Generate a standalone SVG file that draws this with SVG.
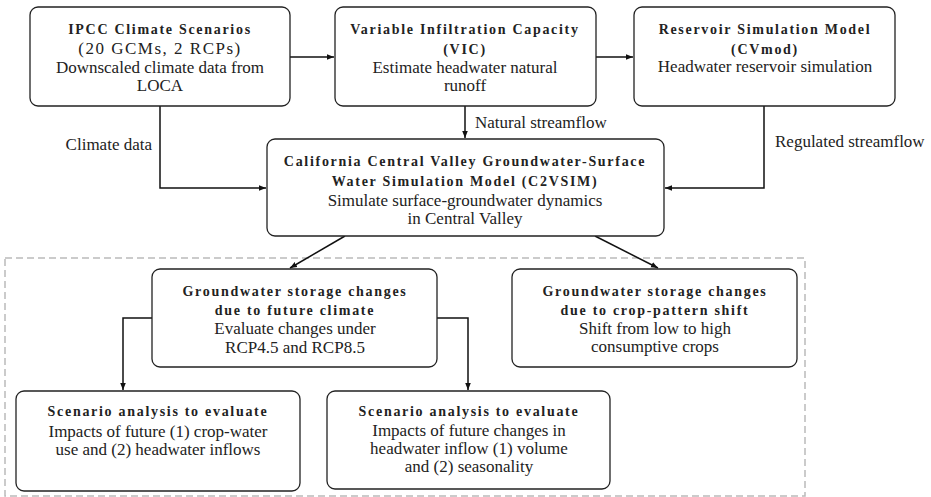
<svg xmlns="http://www.w3.org/2000/svg" width="931" height="497" viewBox="0 0 931 497">
<style>
.box{fill:#fff;stroke:#222;stroke-width:1.3}
.b{font-family:"Liberation Serif",serif;font-weight:bold;font-size:14px;letter-spacing:1.7px;fill:#222;text-anchor:middle}
.r{font-family:"Liberation Serif",serif;font-size:17px;fill:#222;text-anchor:middle}
.l{font-family:"Liberation Serif",serif;font-size:17px;fill:#222}
.c{fill:none;stroke:#111;stroke-width:1.5}
</style>
<defs>
<marker id="ah" viewBox="0 0 10 10" refX="10" refY="5" markerWidth="7" markerHeight="7" markerUnits="userSpaceOnUse" orient="auto"><path d="M0,1 L10,5 L0,9 z" fill="#111"/></marker>
</defs>
<rect x="5" y="258" width="800" height="238" fill="none" stroke="#bbb" stroke-width="1.5" stroke-dasharray="7 4"/>
<g id="connectors">
<line class="c" x1="290" y1="57" x2="334" y2="57" marker-end="url(#ah)"/>
<line class="c" x1="596" y1="57" x2="633" y2="57" marker-end="url(#ah)"/>
<line class="c" x1="465" y1="106" x2="465" y2="138" marker-end="url(#ah)"/>
<polyline class="c" points="160,106 160,188 266,188" marker-end="url(#ah)"/>
<polyline class="c" points="764,106 764,188 665,188" marker-end="url(#ah)"/>
<line class="c" x1="345" y1="236" x2="290" y2="268" marker-end="url(#ah)"/>
<line class="c" x1="595" y1="236" x2="658" y2="268" marker-end="url(#ah)"/>
<polyline class="c" points="152,318 123,318 123,390" marker-end="url(#ah)"/>
<polyline class="c" points="437,318 468,318 468,390" marker-end="url(#ah)"/>
<text class="l" x="152" y="150" text-anchor="end">Climate data</text>
<text class="l" x="475" y="128">Natural streamflow</text>
<text class="l" x="775" y="147">Regulated streamflow</text>
</g>
<g id="ipcc">
<rect class="box" x="30" y="7" width="260" height="99" rx="8"/>
<text class="b" x="160" y="34">IPCC Climate Scenarios</text>
<text class="r" x="160" y="54" style="letter-spacing:1.5px">(20 GCMs, 2 RCPs)</text>
<text class="r" x="160" y="73">Downscaled climate data from</text>
<text class="r" x="160" y="91">LOCA</text>
</g>
<g id="vic">
<rect class="box" x="335" y="7" width="261" height="99" rx="8"/>
<text class="b" x="465" y="34">Variable Infiltration Capacity</text>
<text class="b" x="465" y="54">(VIC)</text>
<text class="r" x="465" y="73">Estimate headwater natural</text>
<text class="r" x="465" y="91">runoff</text>
</g>
<g id="cvmod">
<rect class="box" x="634" y="7" width="261" height="99" rx="8"/>
<text class="b" x="765" y="34">Reservoir Simulation Model</text>
<text class="b" x="765" y="54">(CVmod)</text>
<text class="r" x="765" y="72">Headwater reservoir simulation</text>
</g>
<g id="c2vsim">
<rect class="box" x="267" y="139" width="397" height="97" rx="8"/>
<text class="b" x="465" y="166">California Central Valley Groundwater-Surface</text>
<text class="b" x="465" y="186">Water Simulation Model (C2VSIM)</text>
<text class="r" x="465" y="206">Simulate surface-groundwater dynamics</text>
<text class="r" x="465" y="224">in Central Valley</text>
</g>
<g id="gw-climate">
<rect class="box" x="152" y="269" width="285" height="98" rx="8"/>
<text class="b" x="295" y="296">Groundwater storage changes</text>
<text class="b" x="295" y="315">due to future climate</text>
<text class="r" x="295" y="334">Evaluate changes under</text>
<text class="r" x="295" y="353">RCP4.5 and RCP8.5</text>
</g>
<g id="gw-crop">
<rect class="box" x="512" y="269" width="285" height="98" rx="8"/>
<text class="b" x="655" y="296">Groundwater storage changes</text>
<text class="b" x="655" y="315">due to crop-pattern shift</text>
<text class="r" x="655" y="334">Shift from low to high</text>
<text class="r" x="655" y="352">consumptive crops</text>
</g>
<g id="scenario-crop">
<rect class="box" x="16" y="391" width="284" height="100" rx="8"/>
<text class="b" x="158" y="416">Scenario analysis to evaluate</text>
<text class="r" x="158" y="437">Impacts of future (1) crop-water</text>
<text class="r" x="158" y="455">use and (2) headwater inflows</text>
</g>
<g id="scenario-inflow">
<rect class="box" x="327" y="391" width="283" height="98" rx="8"/>
<text class="b" x="469" y="416">Scenario analysis to evaluate</text>
<text class="r" x="469" y="436">Impacts of future changes in</text>
<text class="r" x="469" y="454">headwater inflow (1) volume</text>
<text class="r" x="469" y="472">and (2) seasonality</text>
</g>
</svg>
